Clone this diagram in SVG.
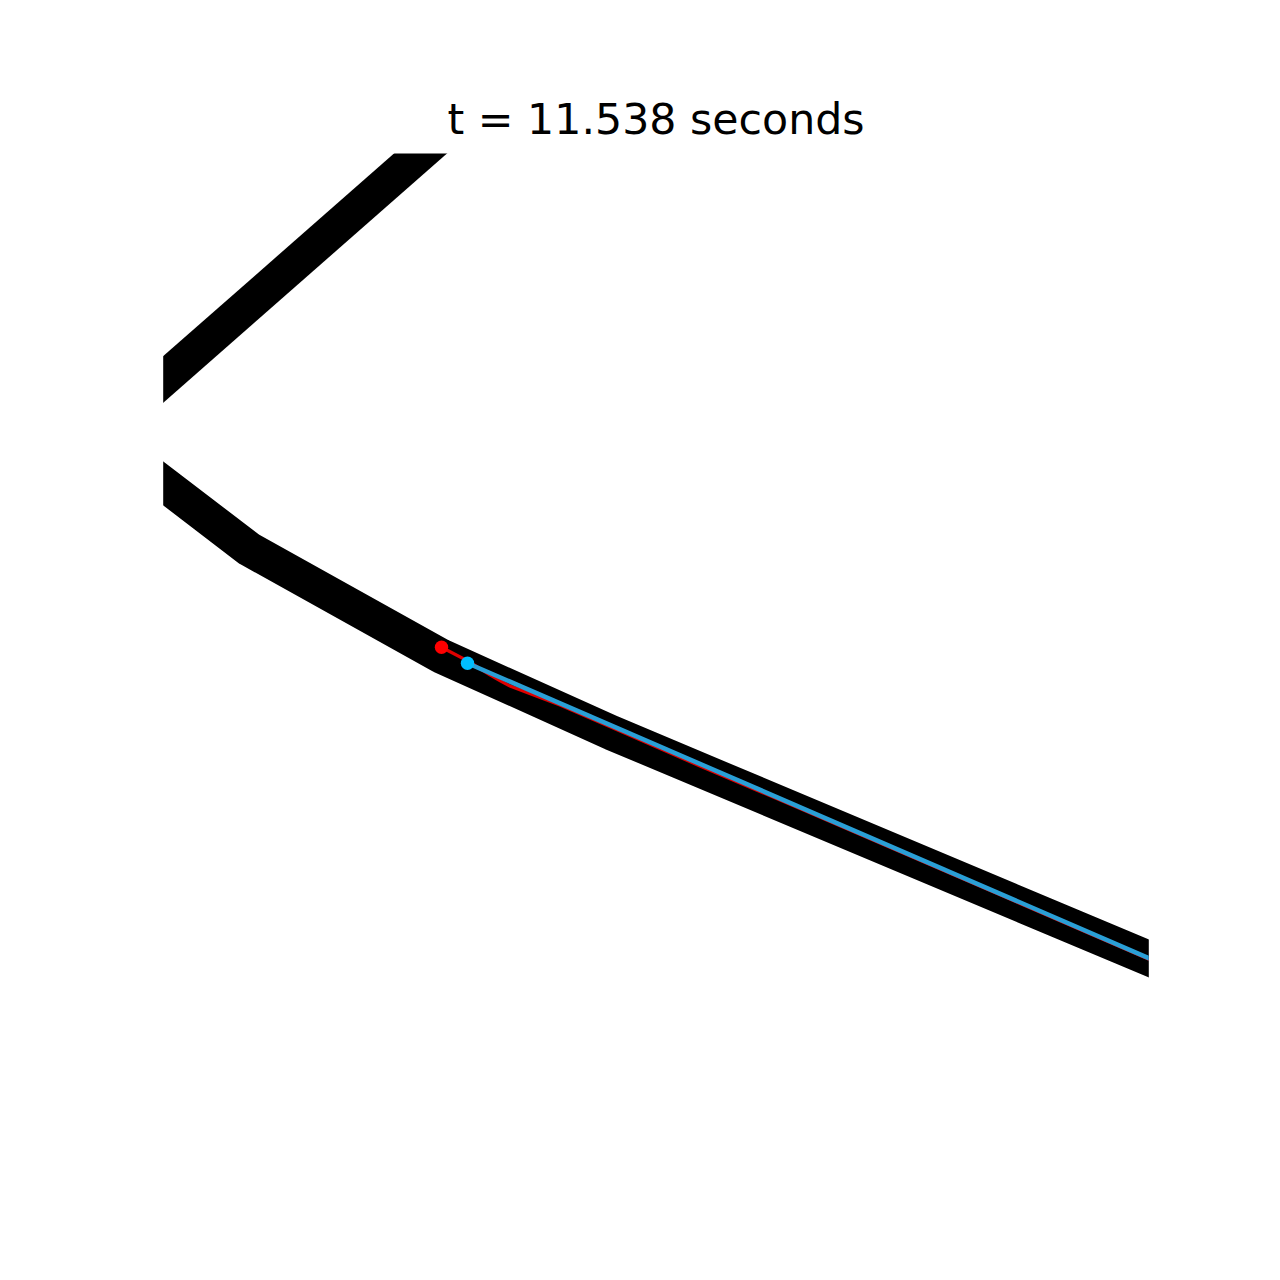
<svg xmlns="http://www.w3.org/2000/svg" width="1280" height="1280" viewBox="0 0 1280 1280">
<style>
.track{fill:none;stroke:#000;stroke-width:35;stroke-linejoin:round;stroke-linecap:butt}
.title{font-family:"DejaVu Sans",sans-serif;font-size:42.7px;fill:#000;text-anchor:middle}
</style>
<defs><clipPath id="ax"><rect x="163.2" y="153.6" width="985.6" height="985.6"/></clipPath></defs>
<rect width="1280" height="1280" fill="#fff"/>
<text class="title" x="656" y="134">t = 11.538 seconds</text>
<g id="connectors" clip-path="url(#ax)">
<path class="track" d="M100,435 L470,110"/>
<path class="track" d="M100,435 L249,549 L441,656 L612,733 L1200,980"/>
<path id="red" d="M441,647 L470,662 Q490,676 510,686 L560,705 L620,731 L700,766 L800,808.5 L1200,981.2" fill="none" stroke="#e00000" stroke-width="3.2"/>
<path id="blue" d="M467,663 L1160,963" fill="none" stroke="#2a9fd6" stroke-width="4.5"/>
</g>
<g id="red-marker"><circle cx="441.5" cy="647.2" r="6.7" fill="#ff0000"/></g>
<g id="blue-marker"><circle cx="467.5" cy="663.2" r="6.7" fill="#00bfff"/></g>
</svg>
